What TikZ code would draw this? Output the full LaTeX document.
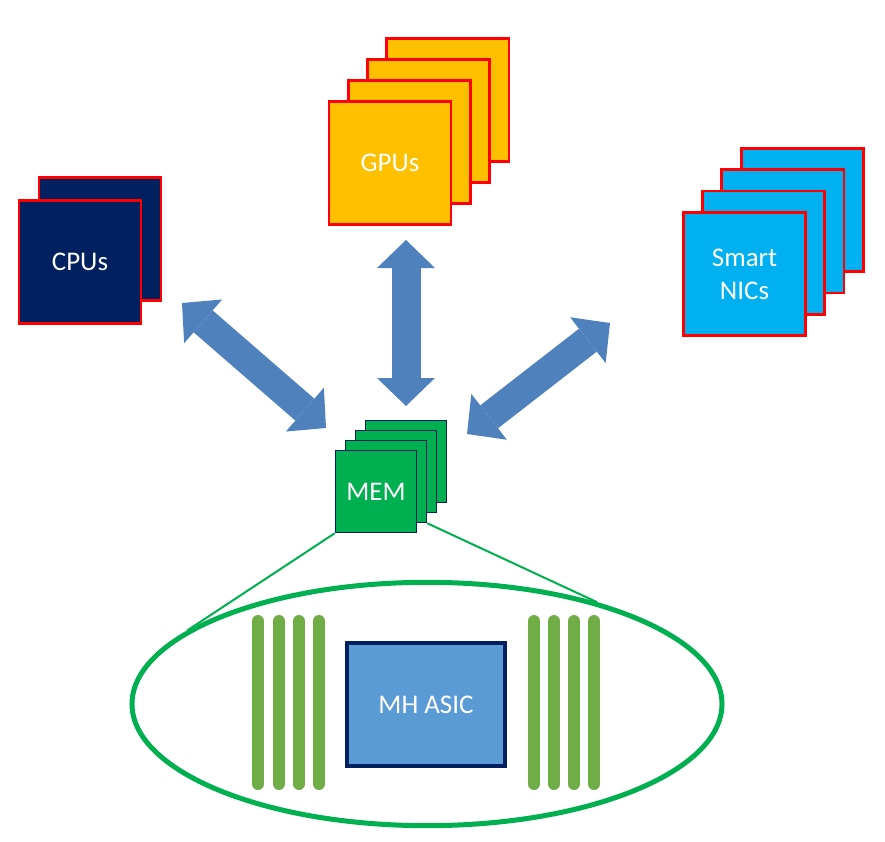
\documentclass[tikz,border=0pt]{standalone}
\usepackage{fontspec}
\setmainfont{Carlito}
\usetikzlibrary{arrows.meta,shapes.geometric}

\definecolor{cpublue}{HTML}{002060}
\definecolor{gpuyellow}{HTML}{FFC000}
\definecolor{nicblue}{HTML}{00B0F0}
\definecolor{memgreen}{HTML}{00B050}
\definecolor{barsgreen}{HTML}{70AD47}
\definecolor{linkblue}{HTML}{4F81BD}
\definecolor{asicblue}{HTML}{5B9BD5}

\begin{document}
\begin{tikzpicture}[
  x=0.03cm, y=-0.03cm,
  font=\fontsize{23}{28}\selectfont,
  card/.style={draw=red, line width=2.4pt, text=white, align=center, minimum width=3.66cm, minimum height=3.7cm, inner sep=0pt},
  memcard/.style={draw=cpublue, line width=1pt, fill=memgreen, text=white, minimum width=2.44cm, minimum height=2.47cm, inner sep=0pt},
  link/.style={line width=0.87cm, draw=linkblue,
    {Triangle[width=1.74cm, length=0.84cm, line width=0pt]}-{Triangle[width=1.74cm, length=0.84cm, line width=0pt]}},
  zoomline/.style={draw=memgreen, line width=0.06cm},
  ring/.style={ellipse, draw=memgreen, line width=0.15cm, minimum width=17.7cm, minimum height=7.3cm},
  lane/.style={draw=barsgreen, line width=0.36cm, line cap=round},
  asic/.style={draw=cpublue, line width=0.11cm, fill=asicblue, text=white, minimum width=4.75cm, minimum height=3.7cm}
]
\useasboundingbox (0,0) rectangle (885,842);

% processor stacks, back to front
\node[card, fill=cpublue] (cpu1) at (100,239) {};
\node[card, fill=cpublue] (cpu0) at (80,262) {CPUs};

\foreach \i in {3,2,1} {
  \node[card, fill=gpuyellow] (gpu\i) at (390+19.3*\i,163-21*\i) {};
  \node[card, fill=nicblue] (nic\i) at (744.5+19.2*\i,274-21.3*\i) {};
}
\node[card, fill=gpuyellow] (gpu0) at (390,163) {GPUs};
\node[card, fill=nicblue] (nic0) at (744.5,274) {Smart\\NICs};

% memory stack
\foreach \i in {3,2,1} {
  \node[memcard] (mem\i) at (376+10*\i,491.5-10*\i) {};
}
\node[memcard] (mem0) at (376,491.5) {MEM};

% links to memory
\coordinate (cpuend) at (182,303);
\coordinate (memwest) at (326,428);
\coordinate (gpuend) at (406,240);
\coordinate (memnorth) at (406,406);
\coordinate (nicend) at (610,323);
\coordinate (memeast) at (467,434);
\draw[link] (cpuend) -- (memwest);
\draw[link] (gpuend) -- (memnorth);
\draw[link] (nicend) -- (memeast);

% zoomed view of a memory module
\node[ring] (ring) at (427,704) {};
\draw[zoomline] (mem0.south west) -- (ring.163);
\draw[zoomline] (mem1.south east) -- (ring.31);

\foreach \x in {258,279,299,319,534,554,574,594} {
  \draw[lane] (\x,621) -- (\x,784);
}
\node[asic] (mhasic) at (426,704.5) {MH ASIC};

\end{tikzpicture}
\end{document}
